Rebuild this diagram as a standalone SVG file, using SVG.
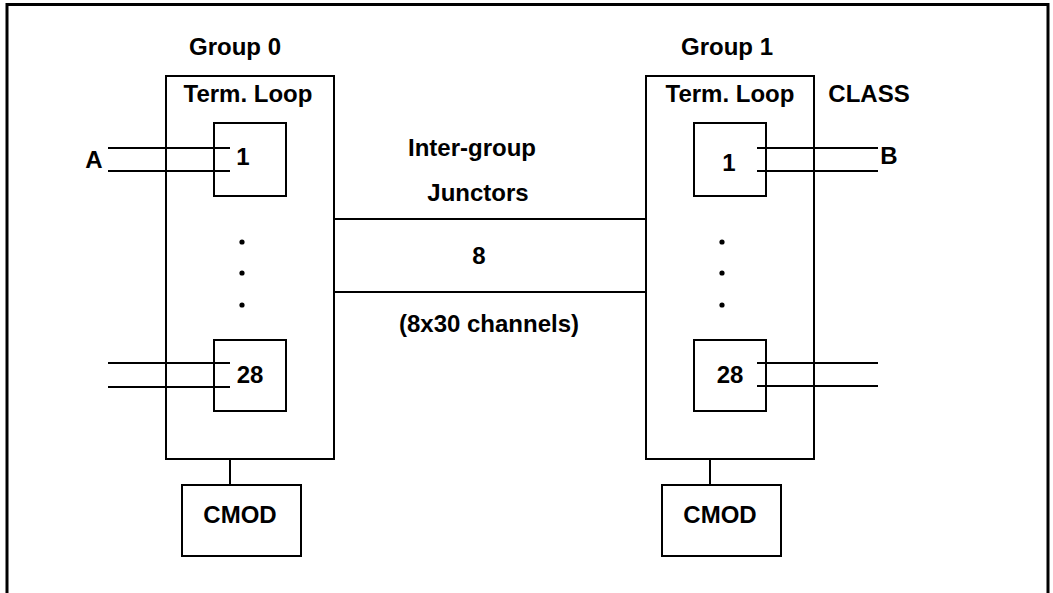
<svg xmlns="http://www.w3.org/2000/svg" width="1053" height="593" viewBox="0 0 1053 593">
  <style>
    .box { fill: none; stroke: #000; stroke-width: 2; }
    .wire { fill: none; stroke: #000; stroke-width: 2; }
    .frame { fill: none; stroke: #000; stroke-width: 3; }
    text { font-family: "Liberation Sans", Arial, sans-serif; font-weight: bold; font-size: 24px; fill: #000; text-anchor: middle; }
  </style>
  <rect width="1053" height="593" fill="#fff"/>

  <!-- page frame, open at the bottom -->
  <path class="frame" d="M7,593 V4.5 H1048 V593"/>

  <!-- group 0 -->
  <g id="group0">
    <text x="235" y="55">Group 0</text>
    <rect class="box" x="166" y="76" width="168" height="383"/>
    <text x="248" y="102">Term. Loop</text>
  </g>
  <g id="g0-term1">
    <rect class="box" x="214" y="123" width="72" height="73"/>
    <text x="243" y="165">1</text>
  </g>
  <g id="g0-dots">
    <circle cx="242" cy="242" r="2.6"/>
    <circle cx="242" cy="273" r="2.6"/>
    <circle cx="242" cy="305" r="2.6"/>
  </g>
  <g id="g0-term28">
    <rect class="box" x="214" y="340" width="72" height="71"/>
    <text x="250" y="383">28</text>
  </g>
  <g id="g0-cmod">
    <rect class="box" x="182" y="485" width="119" height="71"/>
    <text x="240" y="523">CMOD</text>
  </g>

  <!-- group 1 -->
  <g id="group1">
    <text x="727" y="55">Group 1</text>
    <rect class="box" x="646" y="76" width="168" height="383"/>
    <text x="730" y="102">Term. Loop</text>
    <text x="869" y="102">CLASS</text>
  </g>
  <g id="g1-term1">
    <rect class="box" x="694" y="123" width="72" height="73"/>
    <text x="729" y="171">1</text>
  </g>
  <g id="g1-dots">
    <circle cx="722" cy="242" r="2.6"/>
    <circle cx="722" cy="273" r="2.6"/>
    <circle cx="722" cy="305" r="2.6"/>
  </g>
  <g id="g1-term28">
    <rect class="box" x="694" y="340" width="72" height="71"/>
    <text x="730" y="383">28</text>
  </g>
  <g id="g1-cmod">
    <rect class="box" x="662" y="485" width="119" height="71"/>
    <text x="720" y="523">CMOD</text>
  </g>

  <!-- subscriber labels -->
  <g id="sub-a"><text x="94" y="168">A</text></g>
  <g id="sub-b"><text x="889" y="164">B</text></g>

  <!-- junctor labels -->
  <g id="junctors">
    <text x="472" y="156">Inter-group</text>
    <text x="478" y="201">Junctors</text>
    <text x="479" y="264">8</text>
    <text x="489" y="332">(8x30 channels)</text>
  </g>

  <!-- connectors -->
  <g id="connectors">
    <path class="wire" d="M108,148 H230 M108,171 H230"/>
    <path class="wire" d="M108,363 H230 M108,387 H230"/>
    <path class="wire" d="M757,148 H878 M757,171 H878"/>
    <path class="wire" d="M757,363 H878 M757,386 H878"/>
    <path class="wire" d="M334,219 H646 M334,292 H646"/>
    <path class="wire" d="M230,459 V485"/>
    <path class="wire" d="M710,459 V485"/>
  </g>
</svg>
